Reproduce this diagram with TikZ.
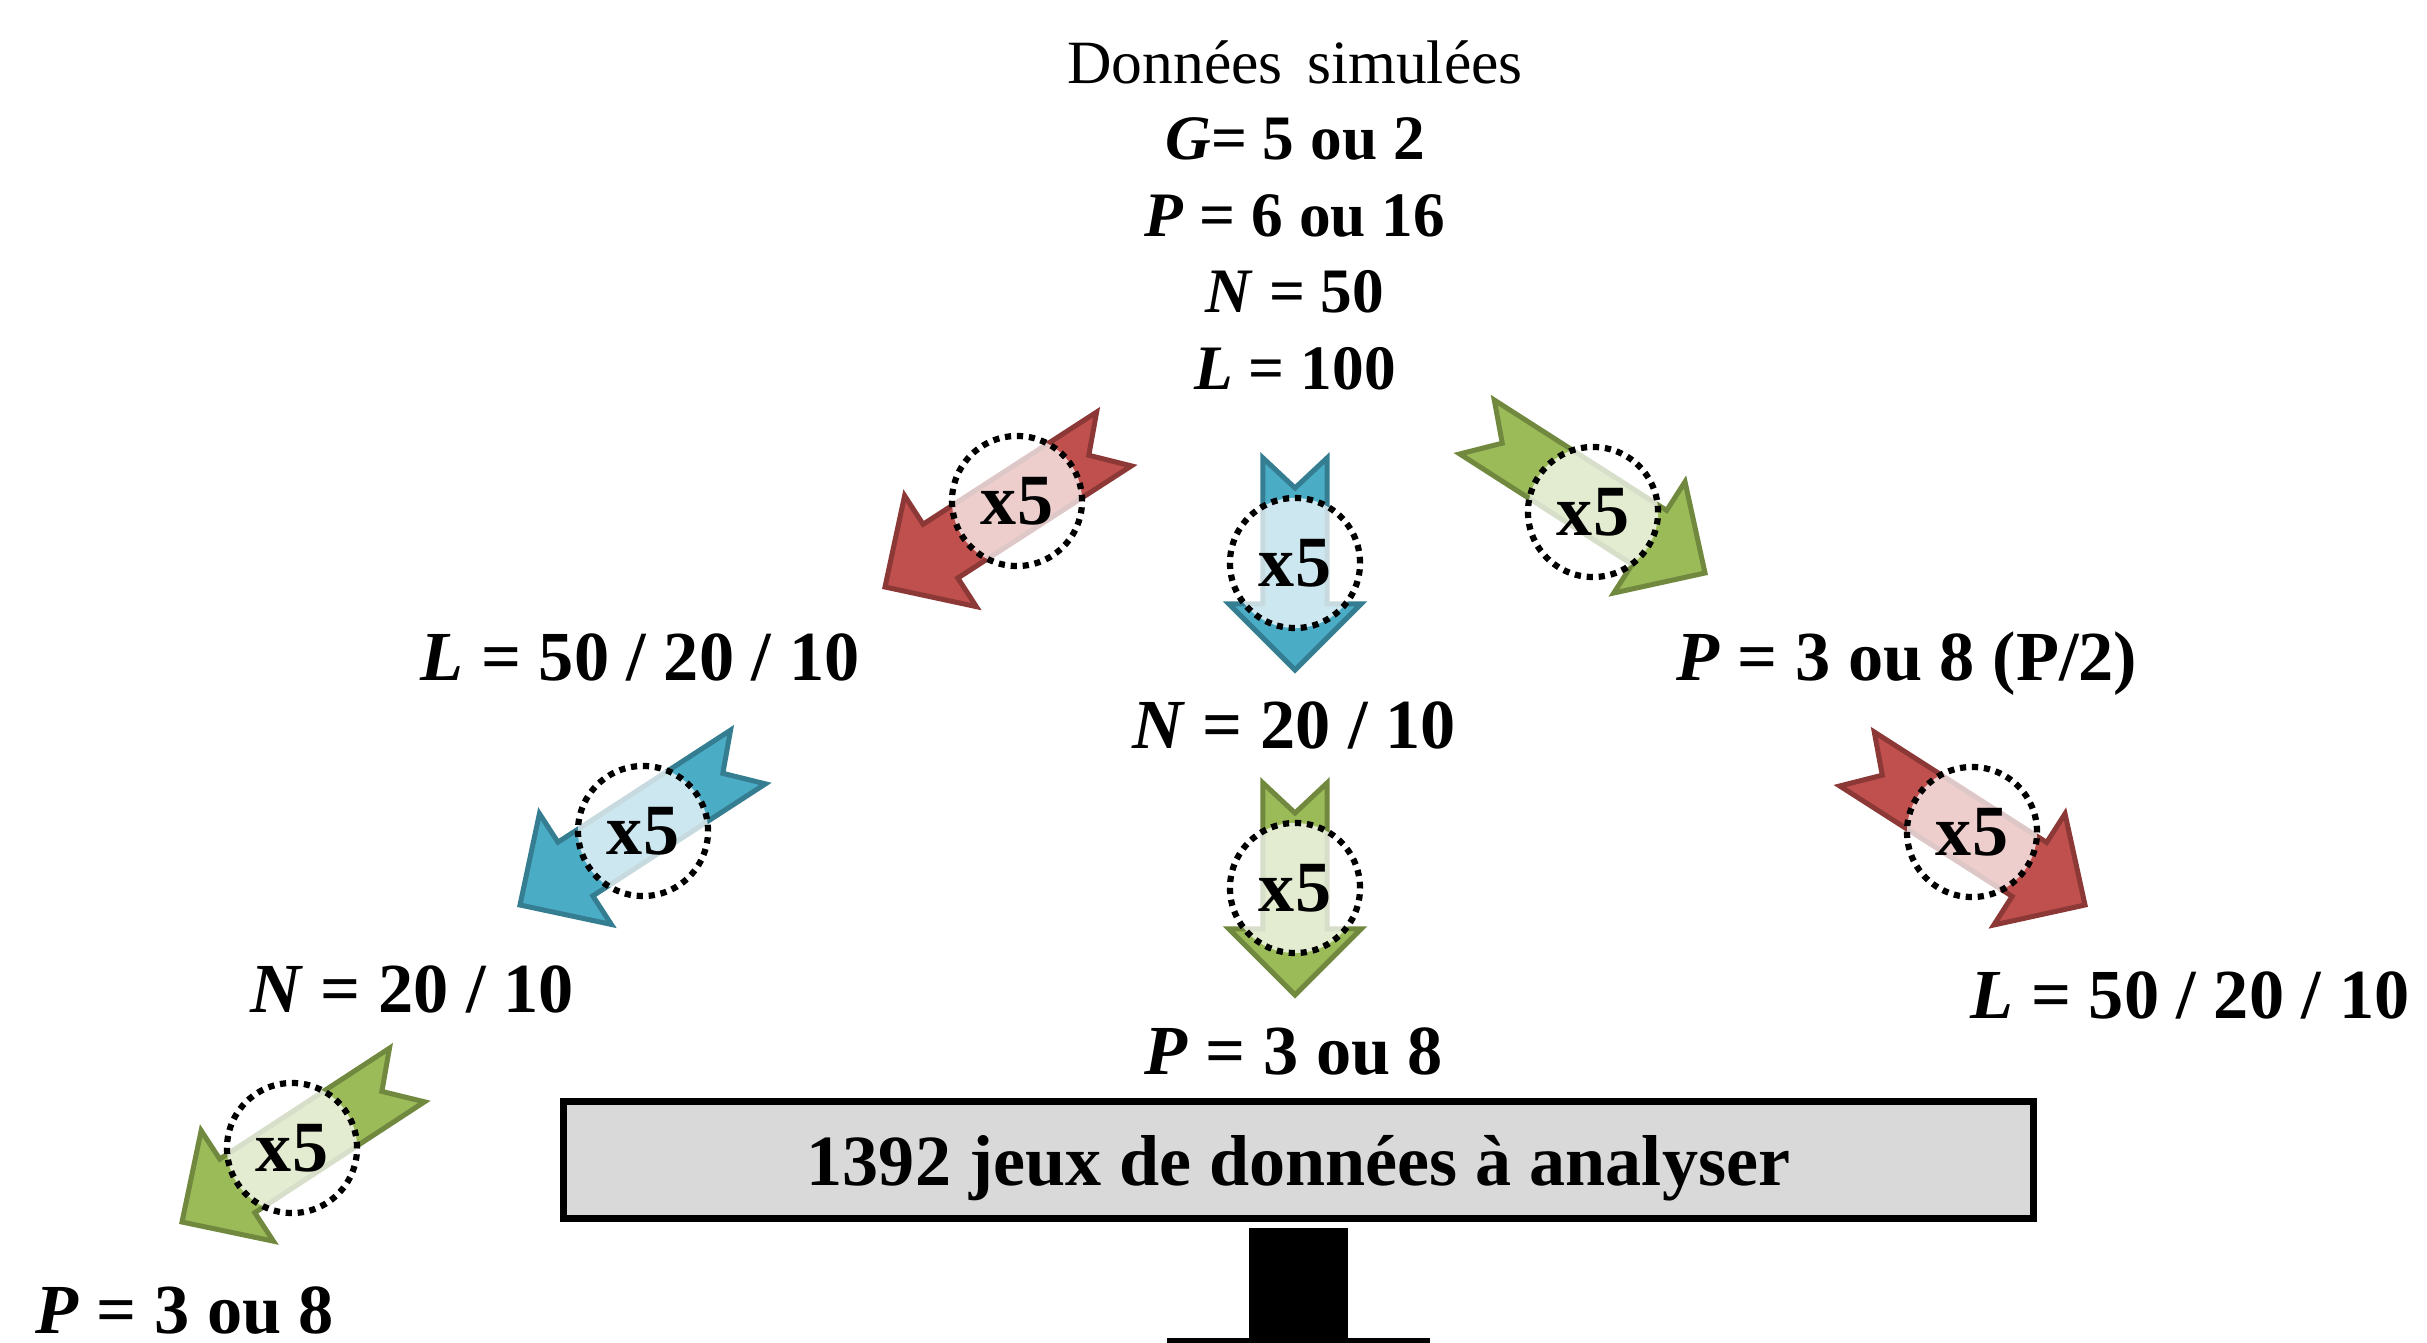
\documentclass[tikz,border=0pt]{standalone}
\usepackage{fontspec}
\setmainfont{Liberation Serif}
\usepackage{xcolor}
\usetikzlibrary{calc,positioning}

\definecolor{redfill}{HTML}{C0504D}
\definecolor{redline}{HTML}{8C3836}
\definecolor{bluefill}{HTML}{4BACC6}
\definecolor{blueline}{HTML}{357D91}
\definecolor{greenfill}{HTML}{9BBB59}
\definecolor{greenline}{HTML}{71893F}
\definecolor{boxgray}{HTML}{D9D9D9}

% block arrow with notched tail: #1 tail, #2 tip, #3 colour
\newcommand{\blockarrow}[3]{%
  \draw[fill=#3fill, draw=#3line, line width=0.05cm, line join=miter]
    ($(#1)!0.32cm!90:(#2)$)
    -- ($(#2)!0.66cm!(#1)!0.32cm!90:(#2)$)
    -- ($(#2)!0.66cm!(#1)!0.66cm!90:(#2)$)
    -- (#2)
    -- ($(#2)!0.66cm!(#1)!0.66cm!-90:(#2)$)
    -- ($(#2)!0.66cm!(#1)!0.32cm!-90:(#2)$)
    -- ($(#1)!0.32cm!-90:(#2)$)
    -- ($(#1)!0.30cm!(#2)$)
    -- cycle;}

\begin{document}
\begin{tikzpicture}[
  x=0.01cm, y=-0.01cm,
  ttl/.style={font=\fontsize{18}{22}\selectfont\bfseries, anchor=base, inner sep=0pt},
  lbl/.style={font=\fontsize{20}{24}\selectfont\bfseries, anchor=base, inner sep=0pt},
  rep/.style={circle, minimum size=1.3cm, inner sep=0pt, fill=white, fill opacity=0.72,
              text opacity=1, draw=black, draw opacity=1, line width=0.062cm,
              dash pattern=on 0.062cm off 0.058cm, font=\fontsize{20.5}{24}\selectfont\bfseries},
  resultbox/.style={draw, line width=0.07cm, fill=boxgray, minimum width=14.70cm,
                    minimum height=1.17cm, inner sep=0pt, text height=18.5pt, text depth=4.1pt,
                    font=\fontsize{20.5}{24}\selectfont\bfseries}
]
\useasboundingbox (0,0) rectangle (2427,1343);

% simulated data
\node[ttl, font=\fontsize{17.5}{22}\selectfont] (src) at (1295,84) {Données\hspace{0.4em}simulées};
\node[ttl] (srcG) at (1295,160) {\textit{G}= 5 ou 2};
\node[ttl] (srcP) at (1295,237) {\textit{P} = 6 ou 16};
\node[ttl] (srcN) at (1295,313) {\textit{N} = 50};
\node[ttl] (srcL) at (1295,390) {\textit{L} = 100};

% reduced data sets
\node[lbl] (lowL)  at (640,680)   {\textit{L} = 50 / 20 / 10};
\node[lbl] (lowN)  at (1294,748)  {\textit{N} = 20 / 10};
\node[lbl] (lowP)  at (1907,680)  {\textit{P} = 3 ou 8 (P/2)};
\node[lbl] (lowLN) at (412,1012)  {\textit{N} = 20 / 10};
\node[lbl] (lowNP) at (1294,1074) {\textit{P} = 3 ou 8};
\node[lbl] (lowPL) at (2190,1018) {\textit{L} = 50 / 20 / 10};
\node[lbl] (lowLNP) at (185,1333) {\textit{P} = 3 ou 8};

% arrow ends
\coordinate (a1t) at (1114,439); \coordinate (a1h) at (885,587);
\coordinate (a2t) at (1295,458); \coordinate (a2h) at (1295,670);
\coordinate (a3t) at (1477,427); \coordinate (a3h) at (1705,573);
\coordinate (a4t) at (748,757);  \coordinate (a4h) at (520,905);
\coordinate (a5t) at (1295,783); \coordinate (a5h) at (1295,995);
\coordinate (a6t) at (1857,759); \coordinate (a6h) at (2085,905);
\coordinate (a7t) at (407,1075); \coordinate (a7h) at (182,1222);

\blockarrow{a1t}{a1h}{red}
\blockarrow{a2t}{a2h}{blue}
\blockarrow{a3t}{a3h}{green}
\blockarrow{a4t}{a4h}{blue}
\blockarrow{a5t}{a5h}{green}
\blockarrow{a6t}{a6h}{red}
\blockarrow{a7t}{a7h}{green}

\node[rep] (rep1) at (1017,501) {x5};
\node[rep] (rep2) at (1295,563) {x5};
\node[rep] (rep3) at (1593,512) {x5};
\node[rep] (rep4) at (643,831)  {x5};
\node[rep] (rep5) at (1295,888) {x5};
\node[rep] (rep6) at (1972,832) {x5};
\node[rep] (rep7) at (292,1148) {x5};

% result
\node[resultbox] (result) at (1298.5,1160) {1392 jeux de données à analyser};
\fill (1249,1228) rectangle (1348,1343);
\fill (1167,1338) rectangle (1430,1343);
\end{tikzpicture}
\end{document}
